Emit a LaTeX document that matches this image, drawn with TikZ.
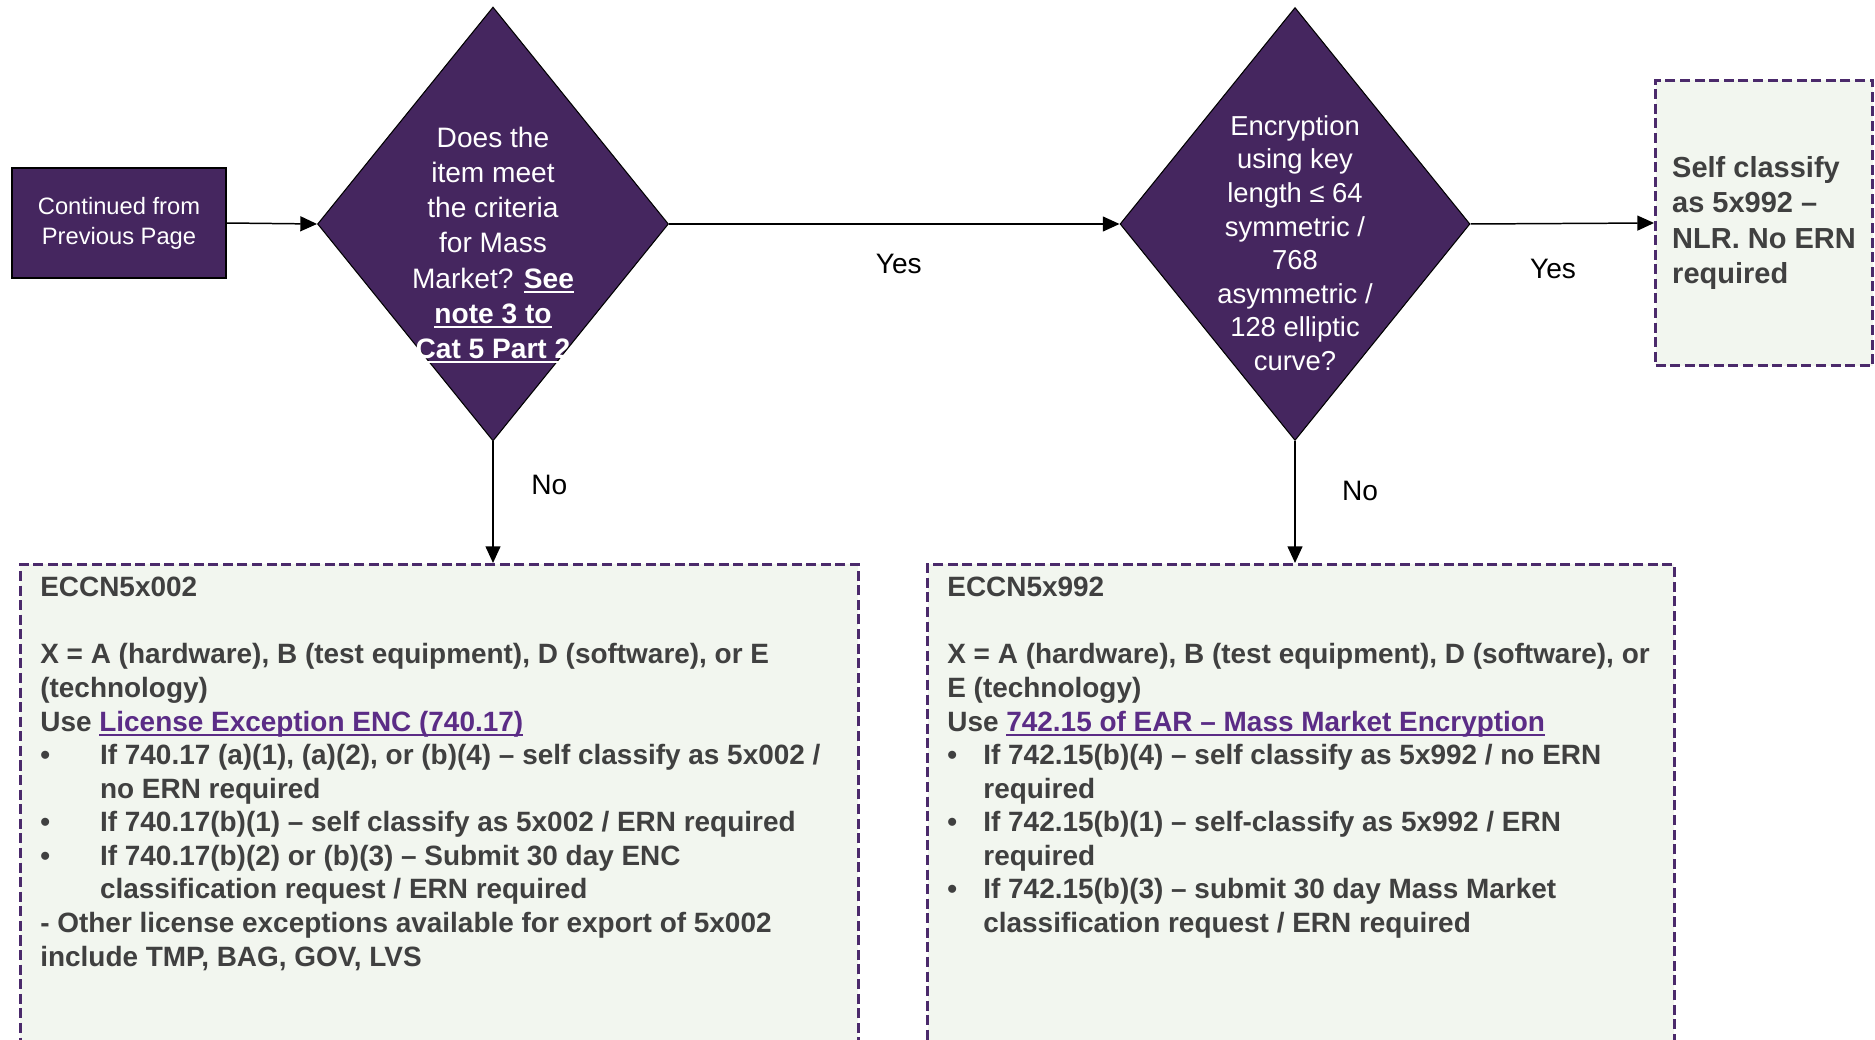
\documentclass[tikz,border=0pt]{standalone}
\usepackage{fontspec}
\setmainfont{Liberation Sans}
\usetikzlibrary{shapes.geometric,arrows.meta}

\definecolor{eccpurple}{HTML}{45265F}
\definecolor{dashpurple}{HTML}{4B2A6B}
\definecolor{linkpurple}{HTML}{5B2C86}
\definecolor{notebg}{HTML}{F2F6EF}
\definecolor{notetext}{HTML}{404040}

\newsavebox{\eculbox}
\newcommand{\ecul}[1]{\sbox{\eculbox}{#1}\rlap{\rule[-2.6pt]{\wd\eculbox}{1.1pt}}\usebox{\eculbox}}
\newcommand{\eclink}[1]{\textcolor{linkpurple}{\ecul{#1}}}
\newcommand{\bul}[1]{\makebox[#1][l]{\textbullet}}

\begin{document}
\begin{tikzpicture}[x=0.02cm,y=-0.02cm,
  flow/.style={-{Triangle[length=9.5pt,width=8.5pt]},line width=0.85pt},
  start/.style={draw=black,line width=0.7pt,fill=eccpurple,text=white,align=center,
    minimum width=4.28cm,minimum height=2.2cm,font=\fontsize{13.5}{17}\selectfont},
  decision/.style={diamond,draw=black,line width=0.6pt,fill=eccpurple,inner sep=0pt},
  question/.style={text=white,align=center},
  note/.style={draw=dashpurple,line width=1.7pt,dash pattern=on 5.7pt off 2.6pt,fill=notebg},
  notetxt/.style={text=notetext,align=left,inner sep=0pt,anchor=north west,
    font=\bfseries\fontsize{15.9}{19.1}\selectfont},
  answer/.style={font=\fontsize{16}{20}\selectfont}]
  \useasboundingbox (0,0) rectangle (1875,1040);
  \clip (0,0) rectangle (1875,1040);

  % start and the two questions
  \node[start] (cont) at (119,223) {Continued from\\Previous Page};
  \node[decision,minimum width=7.02cm,minimum height=8.68cm] (mm) at (493,224) {};
  \node[question,font=\fontsize{16}{20}\selectfont] (mmq) at (493,245)
    {Does the\\item meet\\the criteria\\for Mass\\Market? \textbf{\ecul{See}}\\
     \textbf{\ecul{note 3 to}}\\\textbf{\ecul{Cat 5 Part 2}}};
  \node[decision,minimum width=7.0cm,minimum height=8.66cm] (keylen) at (1295,224) {};
  \node[question,font=\fontsize{15.6}{19.1}\selectfont] (keylenq) at (1295,243)
    {Encryption\\using key\\length ≤ 64\\symmetric /\\768\\asymmetric /\\128 elliptic\\curve?};

  % results
  \node[note,minimum width=4.34cm,minimum height=5.72cm,text=notetext,align=left,
    font=\bfseries\fontsize{16.5}{20}\selectfont] (nlr) at (1764,223)
    {Self classify\\as 5x992 --\\NLR. No ERN\\required};
  \node[note,anchor=north west,minimum width=16.76cm,minimum height=10.4cm] (eccn002) at (19,563) {};
  \node[notetxt] (eccn002txt) at (40,577)
    {ECCN5x002\\[19.1pt]
     X = A (hardware), B (test equipment), D (software), or E\\
     (technology)\\
     Use \eclink{License Exception ENC (740.17)}\\
     \bul{34pt}If 740.17 (a)(1), (a)(2), or (b)(4) -- self classify as 5x002 /\\
     \hspace*{34pt}no ERN required\\
     \bul{34pt}If 740.17(b)(1) -- self classify as 5x002 / ERN required\\
     \bul{34pt}If 740.17(b)(2) or (b)(3) -- Submit 30 day ENC\\
     \hspace*{34pt}classification request / ERN required\\
     - Other license exceptions available for export of 5x002\\
     include TMP, BAG, GOV, LVS};
  \node[note,anchor=north west,minimum width=14.94cm,minimum height=10.4cm] (eccn992) at (926,563) {};
  \node[notetxt] (eccn992txt) at (947,577)
    {ECCN5x992\\[19.1pt]
     X = A (hardware), B (test equipment), D (software), or\\
     E (technology)\\
     Use \eclink{742.15 of EAR -- Mass Market Encryption}\\
     \bul{20.5pt}If 742.15(b)(4) -- self classify as 5x992 / no ERN\\
     \hspace*{20.5pt}required\\
     \bul{20.5pt}If 742.15(b)(1) -- self-classify as 5x992 / ERN\\
     \hspace*{20.5pt}required\\
     \bul{20.5pt}If 742.15(b)(3) -- submit 30 day Mass Market\\
     \hspace*{20.5pt}classification request / ERN required};

  % connectors
  \draw[flow] (cont.east) -- (mm.west);
  \draw[flow] (mm.east) -- node[answer,pos=0.51,yshift=-23pt] (yes1) {Yes} (keylen.west);
  \draw[flow] (keylen.east) -- node[answer,pos=0.45,yshift=-26pt] (yes2) {Yes} (nlr.west);
  \draw[flow] (mm.south) -- node[answer,pos=0.36,xshift=32pt] (no1) {No} (mm.south |- eccn002.north);
  \draw[flow] (keylen.south) -- node[answer,pos=0.41,xshift=37pt] (no2) {No} (keylen.south |- eccn992.north);
\end{tikzpicture}
\end{document}
